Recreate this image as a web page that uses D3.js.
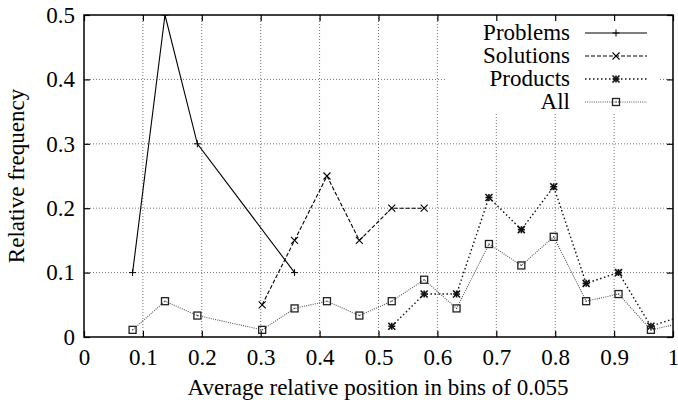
<!DOCTYPE html>
<html>
<head>
<meta charset="utf-8">
<script src="https://cdn.jsdelivr.net/npm/d3@7"></script>
</head>
<body style="margin:0">
<svg id="plot" width="678" height="402"></svg>
<script>
// bin centres (bins of 0.055)
var bins = [0.0825, 0.1375, 0.1925, 0.2475, 0.3025, 0.3575, 0.4125, 0.4675, 0.5225,
            0.5775, 0.6325, 0.6875, 0.7425, 0.7975, 0.8525, 0.9075, 0.9625, 1.0175];

var problems  = [0.1, 0.5, 0.3, null, null, 0.1, null, null, null,
                 null, null, null, null, null, null, null, null, null];
var solutions = [null, null, null, null, 0.05, 0.15, 0.25, 0.15, 0.2,
                 0.2, null, null, null, null, null, null, null, null];
var products  = [null, null, null, null, null, null, null, null, 0.0167,
                 0.0667, 0.0667, 0.2167, 0.1667, 0.2333, 0.0833, 0.1, 0.0167, 0.0333];
var all       = [0.0111, 0.0556, 0.0333, null, 0.0111, 0.0444, 0.0556, 0.0333, 0.0556,
                 0.0889, 0.0444, 0.1444, 0.1111, 0.1556, 0.0556, 0.0667, 0.0111, 0.0222];

var xTicks = [0, 0.1, 0.2, 0.3, 0.4, 0.5, 0.6, 0.7, 0.8, 0.9, 1];
var yTicks = [0, 0.1, 0.2, 0.3, 0.4, 0.5];

var seriesNames = ["Problems", "Solutions", "Products", "All"];

var fontFamily = "Liberation Serif"
  , fontSize = 23;

var margin = {left: 84, right: 5, top: 15, bottom: 65}
  , width = 678 - margin.left - margin.right
  , height = 402 - margin.top - margin.bottom;

var svg = d3.select("#plot");
var g = svg.append("g").attr("transform", "translate(" + margin.left + "," + margin.top + ")");

var x = d3.scaleLinear().domain([0, 1]).range([0, width]);
var y = d3.scaleLinear().domain([0, 0.5]).range([height, 0]);

svg.append("defs").append("clipPath").attr("id", "plotclip")
  .append("rect").attr("width", width).attr("height", height);

//grid
g.selectAll(".vgrid").data(xTicks.slice(1, -1)).enter().append("line")
  .attr("x1", function(d) { return x(d); }).attr("x2", function(d) { return x(d); })
  .attr("y1", 0).attr("y2", height)
  .attr("stroke", "#777").attr("stroke-width", 1).attr("stroke-dasharray", "1,2");
g.selectAll(".hgrid").data(yTicks.slice(1, -1)).enter().append("line")
  .attr("x1", 0).attr("x2", width)
  .attr("y1", function(d) { return y(d); }).attr("y2", function(d) { return y(d); })
  .attr("stroke", "#777").attr("stroke-width", 1).attr("stroke-dasharray", "1,2");

//legend background hides the grid
g.append("rect").attr("x", 447 - margin.left).attr("y", 0)
  .attr("width", 213).attr("height", 98).attr("fill", "#fff");

//axes with inward ticks, mirrored
var tickLen = 6;
var axB = g.append("g").attr("transform", "translate(0," + height + ")")
  .call(d3.axisBottom(x).tickValues(xTicks).tickSize(-tickLen).tickPadding(12)
    .tickFormat(function(d) { return d === 0 || d === 1 ? d : d3.format(".1f")(d); }));
g.append("g")
  .call(d3.axisTop(x).tickValues(xTicks).tickSize(-tickLen).tickFormat(""));
var axL = g.append("g")
  .call(d3.axisLeft(y).tickValues(yTicks).tickSize(-tickLen).tickPadding(9)
    .tickFormat(function(d) { return d === 0 ? "0" : d3.format(".1f")(d); }));
g.append("g").attr("transform", "translate(" + width + ",0)")
  .call(d3.axisRight(y).tickValues(yTicks).tickSize(-tickLen).tickFormat(""));

g.selectAll(".domain").remove();
g.selectAll(".tick line").attr("stroke", "#000").attr("stroke-width", 1.2);
g.selectAll(".tick text").attr("fill", "#000")
  .attr("font-family", fontFamily).attr("font-size", fontSize);
[axB, axL].forEach(function(ax) {
  ax.attr("font-family", fontFamily).attr("font-size", fontSize);
});

g.append("rect").attr("width", width).attr("height", height)
  .attr("fill", "none").attr("stroke", "#000").attr("stroke-width", 1.5);

//series
var styles = [
  {data: problems,  color: "#000", dash: null,  width: 1.1, marker: "plus"},
  {data: solutions, color: "#000", dash: "4,2", width: 1.1, marker: "cross"},
  {data: products,  color: "#111", dash: "1.5,2.5", width: 1.4, marker: "star"},
  {data: all,       color: "#555", dash: "1,1.2", width: 1.1, marker: "box"}
];

var line = d3.line()
  .x(function(d) { return x(d[0]); })
  .y(function(d) { return y(d[1]); });

function drawMarker(sel, type, color) {
  var s = 3.5;
  if(type === "plus" || type === "star") {
    sel.append("path").attr("d", "M" + (-s) + ",0H" + s + "M0," + (-s) + "V" + s)
      .attr("stroke", color).attr("stroke-width", type === "star" ? 1.6 : 1);
  }
  if(type === "cross" || type === "star") {
    sel.append("path").attr("d", "M" + (-s) + "," + (-s) + "L" + s + "," + s + "M" + (-s) + "," + s + "L" + s + "," + (-s))
      .attr("stroke", color).attr("stroke-width", type === "star" ? 1.6 : 1.1);
  }
  if(type === "box") {
    sel.append("rect").attr("x", -3.5).attr("y", -3.5).attr("width", 7).attr("height", 7)
      .attr("fill", "none").attr("stroke", "#222").attr("stroke-width", 1.3);
    sel.append("rect").attr("x", -0.6).attr("y", -0.6).attr("width", 1.2).attr("height", 1.2)
      .attr("fill", "#444");
  }
}

var plot = g.append("g").attr("clip-path", "url(#plotclip)");

styles.forEach(function(st) {
  //gnuplot joins across empty bins, so missing values are just skipped
  var pts = bins.map(function(b, i) { return [b, st.data[i]]; })
    .filter(function(p) { return p[1] !== null; });
  plot.append("path").datum(pts).attr("d", line)
    .attr("fill", "none").attr("stroke", st.color).attr("stroke-width", st.width)
    .attr("stroke-dasharray", st.dash);
  pts.forEach(function(p) {
    drawMarker(plot.append("g").attr("transform", "translate(" + x(p[0]) + "," + y(p[1]) + ")"),
      st.marker, st.color);
  });
});

//legend
var legend = svg.append("g");
seriesNames.forEach(function(name, i) {
  var cy = 33 + i * 23, st = styles[i];
  legend.append("text").attr("x", 570).attr("y", cy + 7).attr("text-anchor", "end")
    .attr("font-family", fontFamily).attr("font-size", fontSize).text(name);
  legend.append("line").attr("x1", 585).attr("x2", 647).attr("y1", cy).attr("y2", cy)
    .attr("stroke", st.color).attr("stroke-width", st.width).attr("stroke-dasharray", st.dash);
  drawMarker(legend.append("g").attr("transform", "translate(616," + cy + ")"), st.marker, st.color);
});

//axis titles
svg.append("text").attr("x", 378).attr("y", 395)
  .attr("text-anchor", "middle").attr("font-family", fontFamily).attr("font-size", fontSize)
  .text("Average relative position in bins of 0.055");
svg.append("text").attr("transform", "translate(24," + (margin.top + height / 2) + ") rotate(-90)")
  .attr("text-anchor", "middle").attr("font-family", fontFamily).attr("font-size", fontSize)
  .text("Relative frequency");
</script>
</body>
</html>
